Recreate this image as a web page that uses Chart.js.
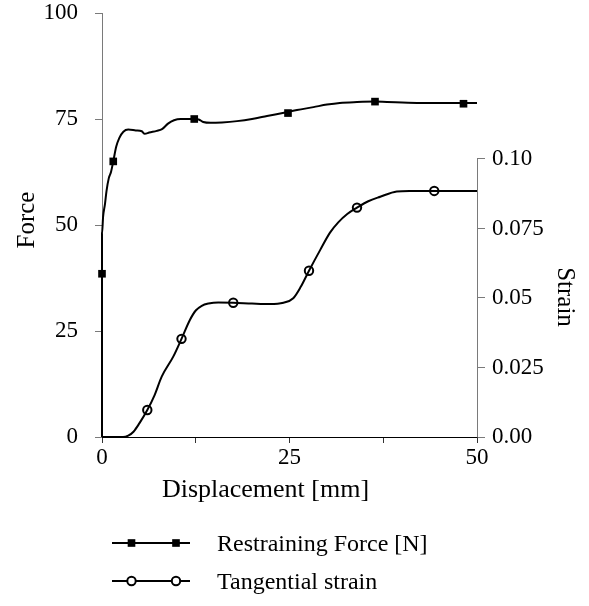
<!DOCTYPE html>
<html>
<head>
<meta charset="utf-8">
<script src="https://cdn.jsdelivr.net/npm/chart.js@4/dist/chart.umd.min.js"></script>
<style>
  html, body { margin: 0; padding: 0; background: #ffffff; }
  #wrap { width: 589px; height: 606px; position: relative; }
</style>
</head>
<body>
<div id="wrap"><canvas id="c" width="589" height="606"></canvas></div>
<script>
// ---- data ----
const seriesNames = ['Restraining Force [N]', 'Tangential strain'];
const axisTitles = { x: 'Displacement [mm]', force: 'Force', strain: 'Strain' };

// Restraining force curve (displacement mm, force)
const forceX = [0, 0, 0, 0.15, 0.4, 0.6, 0.9, 1.2, 1.5, 1.9, 2.3, 2.85, 3.5, 4.5, 5.3, 5.7, 6.3, 7.3, 8.0, 8.8, 9.6, 10.5, 12.3, 12.9, 13.5, 14.5, 16, 18, 20, 22, 24.6, 26, 28.2, 30, 31.7, 34, 36.4, 38, 42, 45, 48.2, 50];
const forceY = [0, 38.5, 48, 52, 55, 58, 61, 62.5, 65, 68.5, 70.5, 72, 72.5, 72.3, 72.1, 71.5, 71.8, 72.2, 72.6, 73.9, 74.7, 75.0, 75.0, 74.9, 74.3, 74.1, 74.2, 74.5, 75.0, 75.7, 76.6, 77.1, 77.8, 78.4, 78.8, 79.0, 79.1, 79.0, 78.8, 78.8, 78.8, 78.8];
// markers on the force curve
const forceMarkX = [0, 1.5, 12.3, 24.8, 36.4, 48.2];
const forceMarkY = [38.5, 65.0, 75.0, 76.4, 79.1, 78.6];

// Tangential strain curve (displacement mm, strain)
const strainX = [0, 2.8, 3.5, 4.2, 5.0, 6.04, 7.0, 7.96, 9.5, 10.6, 11.7, 12.5, 13.3, 14.2, 15.5, 17.5, 20, 22.4, 24.2, 25.5, 26.5, 27.6, 29.1, 30.4, 31.5, 32.7, 34, 35.5, 37.1, 39.3, 41, 44.3, 50];
const strainY = [0, 0, 0.0005, 0.0019, 0.005, 0.0097, 0.015, 0.0217, 0.0289, 0.0353, 0.042, 0.0455, 0.0472, 0.048, 0.0484, 0.0483, 0.048, 0.0478, 0.0483, 0.0499, 0.054, 0.0598, 0.0673, 0.0735, 0.0772, 0.0802, 0.0825, 0.0848, 0.0864, 0.0883, 0.0885, 0.0885, 0.0885];
const strainMarkX = [6.04, 10.6, 17.5, 27.6, 34.0, 44.3];
const strainMarkY = [0.0097, 0.0353, 0.0483, 0.0598, 0.0825, 0.0885];

// ticks
const xTickValues = [0, 12.5, 25, 37.5, 50];
const xTickLabels = ['0', '', '25', '', '50'];
const forceTickValues = [0, 25, 50, 75, 100];
const forceTickLabels = ['0', '25', '50', '75', '100'];
const strainTickValues = [0, 0.025, 0.05, 0.075, 0.10];
const strainTickLabels = ['0.00', '0.025', '0.05', '0.075', '0.10'];

// ---- chart ----
const FONT = "'Liberation Serif', 'Times New Roman', serif";
const pts = (xs, ys) => xs.map((x, i) => ({ x: x, y: ys[i] }));

function setTicks(values) {
  return function (scale) { scale.ticks = values.map(v => ({ value: v })); };
}
function labelFrom(values, labels) {
  return function (value) {
    const i = values.findIndex(v => Math.abs(v - value) < 1e-9);
    return i >= 0 ? labels[i] : '';
  };
}

const decor = {
  id: 'decor',
  afterDraw(chart) {
    const ctx = chart.ctx;
    const y2 = chart.scales.y2;
    ctx.save();
    // partial right axis line (0 .. 0.10)
    ctx.strokeStyle = '#7a7a7a';
    ctx.lineWidth = 1;
    const rx = Math.round(y2.left) + 0.5;
    ctx.beginPath();
    ctx.moveTo(rx, y2.getPixelForValue(strainTickValues[0]) + 0.5);
    ctx.lineTo(rx, y2.getPixelForValue(strainTickValues[strainTickValues.length - 1]));
    ctx.stroke();

    ctx.fillStyle = '#000';
    // x title
    ctx.font = '26px ' + FONT;
    ctx.textAlign = 'center';
    ctx.textBaseline = 'alphabetic';
    ctx.fillText(axisTitles.x, 265.5, 497);
    // Force title
    ctx.font = '25px ' + FONT;
    ctx.save();
    ctx.translate(33.5, 220);
    ctx.rotate(-Math.PI / 2);
    ctx.fillText(axisTitles.force, 0, 0);
    ctx.restore();
    // Strain title
    ctx.save();
    ctx.translate(557.5, 297);
    ctx.rotate(Math.PI / 2);
    ctx.fillText(axisTitles.strain, 0, 0);
    ctx.restore();

    // legend
    const rows = [543, 581];
    const ds = [chart.data.datasets[1], chart.data.datasets[3]];
    ctx.font = '24px ' + FONT;
    ctx.textAlign = 'left';
    rows.forEach((yy, i) => {
      ctx.strokeStyle = '#000';
      ctx.lineWidth = 2;
      ctx.beginPath();
      ctx.moveTo(112, yy);
      ctx.lineTo(190, yy);
      ctx.stroke();
      [131.5, 176].forEach(mx => {
        ctx.fillStyle = ds[i].backgroundColor;
        ctx.strokeStyle = ds[i].borderColor;
        ctx.lineWidth = ds[i].borderWidth;
        if (ds[i].pointStyle === 'circle') {
          ctx.beginPath();
          ctx.arc(mx, yy, ds[i].pointRadius, 0, Math.PI * 2);
          ctx.fill();
          ctx.stroke();
        } else {
          const s = ds[i].pointRadius * Math.SQRT1_2;
          ctx.fillRect(mx - s, yy - s, 2 * s, 2 * s);
        }
      });
      ctx.fillStyle = '#000';
      ctx.fillText(seriesNames[i], 217, yy + 8);
    });
    ctx.restore();
  }
};

new Chart(document.getElementById('c'), {
  type: 'scatter',
  data: {
    datasets: [
      { label: seriesNames[0], data: pts(forceX, forceY), yAxisID: 'y', showLine: true,
        borderColor: '#000', borderWidth: 2, pointRadius: 0, cubicInterpolationMode: 'monotone', clip: false },
      { label: seriesNames[0] + ' markers', data: pts(forceMarkX, forceMarkY), yAxisID: 'y', showLine: false,
        pointStyle: 'rect', pointRadius: 5.4, backgroundColor: '#000', borderColor: '#000', borderWidth: 0, clip: false },
      { label: seriesNames[1], data: pts(strainX, strainY), yAxisID: 'y2', showLine: true,
        borderColor: '#000', borderWidth: 2, pointRadius: 0, cubicInterpolationMode: 'monotone', clip: false },
      { label: seriesNames[1] + ' markers', data: pts(strainMarkX, strainMarkY), yAxisID: 'y2', showLine: false,
        pointStyle: 'circle', pointRadius: 4.2, backgroundColor: '#fff', borderColor: '#000', borderWidth: 2, clip: false }
    ]
  },
  options: {
    responsive: false,
    animation: false,
    events: [],
    layout: { padding: { top: 13, left: 0, right: 0, bottom: 0 } },
    plugins: { legend: { display: false }, tooltip: { enabled: false } },
    scales: {
      x: {
        type: 'linear', min: 0, max: 50,
        afterBuildTicks: setTicks(xTickValues),
        afterFit(s) { s.height = 169; s.paddingLeft = 0; s.paddingRight = 0; },
        border: { display: true, color: '#000', width: 1 },
        grid: { drawOnChartArea: false, drawTicks: true, tickLength: 6, color: '#333', tickColor: '#333' },
        ticks: { color: '#000', padding: 1, maxRotation: 0, autoSkip: false,
                 font: { family: FONT, size: 23 }, callback: labelFrom(xTickValues, xTickLabels) }
      },
      y: {
        type: 'linear', position: 'left', min: 0, max: 100,
        afterBuildTicks: setTicks(forceTickValues),
        afterFit(s) { s.width = 102; s.paddingTop = 0; s.paddingBottom = 0; },
        border: { display: true, color: '#7a7a7a', width: 1 },
        grid: { drawOnChartArea: false, drawTicks: true, tickLength: 7, color: '#7a7a7a', tickColor: '#7a7a7a' },
        ticks: { color: '#000', padding: 17, autoSkip: false,
                 font: { family: FONT, size: 23 }, callback: labelFrom(forceTickValues, forceTickLabels) }
      },
      y2: {
        type: 'linear', position: 'right', min: 0, max: 0.1525,
        afterBuildTicks: setTicks(strainTickValues),
        afterFit(s) { s.width = 112; s.paddingTop = 0; s.paddingBottom = 0; },
        border: { display: false },
        grid: { drawOnChartArea: false, drawTicks: true, tickLength: 8, color: '#7a7a7a', tickColor: '#7a7a7a' },
        ticks: { color: '#000', padding: 7, autoSkip: false,
                 font: { family: FONT, size: 23 }, callback: labelFrom(strainTickValues, strainTickLabels) }
      }
    }
  },
  plugins: [decor]
});
</script>
</body>
</html>
